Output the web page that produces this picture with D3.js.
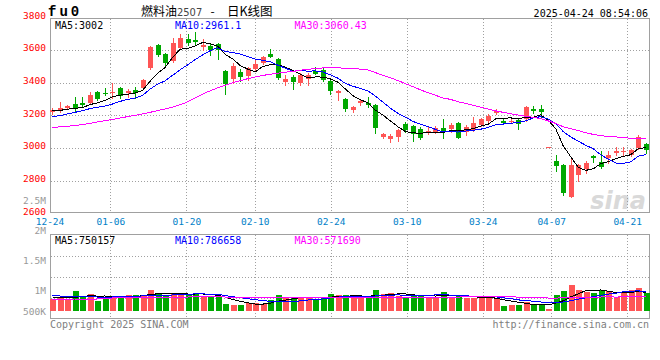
<!DOCTYPE html>
<html><head><meta charset="utf-8">
<script src="https://cdn.jsdelivr.net/npm/d3@7/dist/d3.min.js"></script>
<style>body{margin:0;background:#fff}svg{display:block}</style>
</head><body>
<svg id="c" width="660" height="360"></svg>
<script>
// ---------- data ----------
const dates = ["12-24","12-25","12-26","12-27","12-30","12-31","01-02","01-03","01-06","01-07","01-08","01-09","01-10","01-13","01-14","01-15","01-16","01-17","01-20","01-21","01-22","01-23","01-24","01-27","02-05","02-06","02-07","02-10","02-11","02-12","02-13","02-14","02-17","02-18","02-19","02-20","02-21","02-24","02-25","02-26","02-27","02-28","03-03","03-04","03-05","03-06","03-07","03-10","03-11","03-12","03-13","03-14","03-17","03-18","03-19","03-20","03-21","03-24","03-25","03-26","03-27","03-28","03-31","04-01","04-02","04-03","04-07","04-08","04-09","04-10","04-11","04-14","04-15","04-16","04-17","04-18","04-21","04-22","04-23","04-24"];
const opens  = [3220,3230,3245,3267,3277,3277,3345,3339,3343,3365,3335,3355,3365,3488,3630,3573,3535,3610,3667,3659,3616,3624,3637,3473,3422,3467,3441,3481,3518,3575,3543,3404,3432,3396,3423,3470,3479,3411,3337,3300,3233,3274,3273,3263,3069,3057,3067,3147,3135,3115,3094,3100,3120,3114,3155,3100,3110,3141,3167,3216,3167,3161,3171,3175,3237,3237,3004,2920,2896,2702,2835,2869,2953,2916,2937,2971,2976,2957,2998,3024];
const highs  = [3245,3283,3263,3314,3310,3345,3351,3365,3396,3375,3359,3375,3420,3624,3637,3580,3671,3698,3698,3710,3665,3641,3641,3477,3518,3481,3498,3539,3565,3604,3549,3447,3447,3457,3457,3496,3488,3416,3357,3306,3257,3298,3310,3267,3094,3084,3114,3158,3141,3128,3127,3135,3177,3155,3161,3139,3192,3186,3208,3241,3175,3175,3175,3257,3257,3263,3004,2957,2902,2937,2902,2922,2957,2982,2982,3008,3004,2992,3080,3029];
const lows   = [3208,3220,3237,3228,3257,3273,3294,3326,3304,3304,3314,3304,3359,3482,3565,3508,3528,3606,3630,3630,3600,3569,3545,3330,3400,3412,3416,3477,3514,3555,3420,3386,3359,3386,3386,3450,3412,3330,3292,3224,3222,3263,3249,3094,3061,3035,3045,3100,3045,3053,3086,3094,3063,3100,3059,3080,3106,3135,3155,3205,3145,3151,3116,3167,3216,3192,3004,2861,2712,2698,2800,2845,2916,2875,2910,2957,2953,2953,2992,2967];
const closes = [3232,3243,3257,3237,3265,3324,3300,3331,3345,3318,3351,3335,3416,3620,3569,3522,3641,3671,3641,3646,3630,3600,3600,3392,3502,3432,3488,3514,3559,3559,3426,3420,3406,3447,3447,3455,3416,3348,3349,3239,3251,3288,3261,3120,3086,3073,3110,3110,3088,3064,3106,3120,3100,3141,3063,3131,3155,3179,3196,3228,3151,3167,3147,3249,3228,3222,3004,2890,2722,2896,2896,2910,2937,2882,2957,2984,2982,2988,3069,2988];
const volumes = [480000,508000,480000,800000,612000,680000,400000,508000,572000,572000,640000,640000,600000,840000,720000,600000,720000,720000,640000,720000,612000,600000,572000,280000,240000,240000,308000,308000,280000,440000,640000,508000,572000,508000,572000,480000,520000,680000,640000,640000,548000,508000,572000,840000,680000,720000,600000,572000,640000,640000,572000,572000,760000,572000,600000,508000,508000,508000,532000,532000,200000,240000,240000,348000,268000,240000,92000,640000,800000,1040000,840000,772000,708000,840000,800000,572000,708000,840000,932000,708000];
// moving-average values at the left edge (their earlier inputs are off the picture)
const ma5Head  = [3228,3230,3237,3243];
const ma10Head = [3192,3198,3208,3218,3228,3241,3249,3257,3269];
const ma30Head = [3126,3129,3133,3138,3143,3150,3159,3167,3175,3183,3192,3200,3208,3218,3229,3239,3249,3265,3282,3306,3330,3350,3368,3384,3399,3412,3424,3435,3444];
const vma5Head  = [560000,540000,530000,550000];
const vma10Head = [610000,600000,590000,580000,580000,570000,560000,560000,560000];
const vma30Head = [470000,470000,470000,480000,480000,480000,480000,490000,520000,530000,530000,540000,540000,550000,550000,550000,560000,560000,560000,570000,570000,570000,570000,560000,560000,550000,550000,550000,540000];
const priceTicks = [3800,3600,3400,3200,3000,2800,2600];
const volTickValues = [2500000,2000000,1500000,1000000,500000];
const volTickLabels = ["2.5M","2M","1.5M","1M","500K"];
const xTickDates = ["12-24","01-06","01-20","02-10","02-24","03-10","03-24","04-07","04-21"];
const priceLegend = ["MA5:3002","MA10:2961.1","MA30:3060.43"];
const volLegend = ["MA5:750157","MA10:786658","MA30:571690"];
const maColors = ["#000000","#0000ff","#ff00ff"];

// ---------- drawing ----------
const UP = "#ff5555", DOWN = "#00a800";
const MONO = "'DejaVu Sans Mono', monospace";
const svg = d3.select("#c");
const N = closes.length;
const L = 50.5, R = 649.5;
const mainTop = 18.5, mainBot = 212.5, volTop = 234.5, volBot = 318.5;

const x = d3.scaleLinear().domain([0, N - 1]).range([52.4, 645.8]);
const xg = d3.scaleLinear().domain([0, N - 1]).range([49.5, 650]);
const y = d3.scaleLinear().domain([2600, 3800]).range([213.3, 17.3]);
const yv = d3.scaleLinear().domain([0, 1000000]).range([311, 286]);
const yvLabel = d3.scaleLinear().domain([500000, 2500000]).range([320.7, 200.7]);

function ma(arr, n, head) {
  return arr.map((d, i) => i < n - 1 ? head[i] : d3.mean(arr.slice(i - n + 1, i + 1)));
}
const pMA = [ma(closes, 5, ma5Head), ma(closes, 10, ma10Head), ma(closes, 30, ma30Head)];
const vMA = [ma(volumes, 5, vma5Head), ma(volumes, 10, vma10Head), ma(volumes, 30, vma30Head)];

const px = i => Math.round(x(i));
const gridIdx = xTickDates.map(d => dates.indexOf(d));

// watermark
svg.append("text").attr("x", 646).attr("y", 209).attr("text-anchor", "end")
  .attr("font-family", "'DejaVu Sans', sans-serif").attr("font-size", 24).attr("font-weight", "bold")
  .attr("font-style", "italic").attr("fill", "#d9d9d9").text("sina");

// grids
const g = svg.append("g").attr("shape-rendering", "crispEdges").attr("stroke", "#a0a0a0")
  .attr("stroke-dasharray", "1,2").attr("fill", "none");
priceTicks.slice(1, -1).forEach(v => {
  const yy = Math.round(y(v)) + 0.5;
  g.append("line").attr("x1", L).attr("x2", R).attr("y1", yy).attr("y2", yy);
});
[1, 2, 3].forEach(k => {
  const yy = Math.round(volTop + (volBot - volTop) * k / 4) + 0.5;
  g.append("line").attr("x1", L).attr("x2", R).attr("y1", yy).attr("y2", yy);
});
gridIdx.slice(1).forEach(i => {
  const xx = Math.round(xg(i)) + 0.5;
  g.append("line").attr("x1", xx).attr("x2", xx).attr("y1", mainTop).attr("y2", mainBot);
  g.append("line").attr("x1", xx).attr("x2", xx).attr("y1", volTop).attr("y2", volBot);
});

// borders
[[mainTop, mainBot], [volTop, volBot]].forEach(([t, b]) => {
  svg.append("rect").attr("x", L).attr("y", t).attr("width", R - L).attr("height", b - t)
    .attr("fill", "none").attr("stroke", "#a0a0a0").attr("shape-rendering", "crispEdges");
});

// candles
const cg = svg.append("g").attr("shape-rendering", "crispEdges");
d3.range(N).forEach(i => {
  const up = closes[i] >= opens[i];
  const col = up ? UP : DOWN;
  const cx = px(i) + 0.5;
  cg.append("line").attr("x1", cx).attr("x2", cx)
    .attr("y1", Math.round(y(highs[i]))).attr("y2", Math.round(y(lows[i])) + 1)
    .attr("stroke", col);
  const top = Math.round(y(Math.max(opens[i], closes[i])));
  const bot = Math.round(y(Math.min(opens[i], closes[i])));
  cg.append("rect").attr("x", px(i) - 2).attr("y", top).attr("width", 5)
    .attr("height", Math.max(1, bot - top)).attr("fill", col);
});

// volume bars
d3.range(N).forEach(i => {
  const up = closes[i] >= opens[i];
  const top = Math.round(yv(volumes[i]));
  cg.append("rect").attr("x", px(i) - 2).attr("y", top).attr("width", 6)
    .attr("height", Math.max(1, 311 - top)).attr("fill", up ? UP : DOWN);
});

// MA lines
const lg = svg.append("g").attr("fill", "none").attr("stroke-width", 1).attr("shape-rendering", "crispEdges");
pMA.forEach((s, k) => {
  lg.append("path").attr("stroke", maColors[k])
    .attr("d", d3.line().x((d, i) => x(i)).y(d => y(d))(s));
});
vMA.forEach((s, k) => {
  lg.append("path").attr("stroke", maColors[k])
    .attr("d", d3.line().x((d, i) => x(i)).y(d => yv(d))(s));
});

// text
const legendX = [55, 175, 294.5];
priceLegend.forEach((t, k) => svg.append("text").attr("x", legendX[k]).attr("y", 28.5)
  .attr("font-family", MONO).attr("font-size", 10).attr("fill", maColors[k]).text(t));
volLegend.forEach((t, k) => svg.append("text").attr("x", legendX[k]).attr("y", 243.5)
  .attr("font-family", MONO).attr("font-size", 10).attr("fill", maColors[k]).text(t));

priceTicks.forEach(v => svg.append("text").attr("x", 46).attr("y", y(v) + 1.5)
  .attr("text-anchor", "end").attr("font-family", MONO).attr("font-size", 9.5)
  .attr("fill", "#ff0000").text(v));
volTickValues.forEach((v, k) => svg.append("text").attr("x", 46).attr("y", Math.min(311, yvLabel(v)) + 3.5)
  .attr("text-anchor", "end").attr("font-family", MONO).attr("font-size", 9.5)
  .attr("fill", "#999999").text(volTickLabels[k]));
gridIdx.forEach((i, k) => svg.append("text").attr("x", xg(i) + 0.5).attr("y", 224.5)
  .attr("text-anchor", "middle").attr("font-family", MONO).attr("font-size", 9.5)
  .attr("fill", "#0080c8").text(xTickDates[k]));

svg.append("text").attr("x", 48).attr("y", 15.5).attr("font-family", "'Liberation Mono', monospace")
  .attr("font-size", 14).attr("font-weight", "bold").attr("letter-spacing", 3).attr("fill", "#000").text("fu0");
const CJK = "'Noto Sans CJK SC', sans-serif";
const t1 = svg.append("text").attr("x", 141).attr("y", 15.5).attr("font-size", 12)
  .attr("font-family", CJK).attr("fill", "#000");
t1.append("tspan").text("燃料油");
t1.append("tspan").attr("font-family", "'DejaVu Sans Condensed', 'DejaVu Sans', sans-serif")
  .attr("font-size", 11).attr("fill", "#444").text("2507");
svg.append("text").attr("x", 212.5).attr("y", 15.5).attr("text-anchor", "middle").attr("font-size", 12)
  .attr("font-family", CJK).attr("fill", "#000").text("-");
svg.append("text").attr("x", 227).attr("y", 15.5).attr("font-size", 12.5)
  .attr("font-family", CJK).attr("fill", "#000").text("日K线图");
svg.append("text").attr("x", 648).attr("y", 16.5).attr("text-anchor", "end")
  .attr("font-family", MONO).attr("font-size", 10).attr("fill", "#000").text("2025-04-24 08:54:06");

svg.append("text").attr("x", 50).attr("y", 328).attr("font-family", MONO).attr("font-size", 10)
  .attr("fill", "#808080").text("Copyright 2025 SINA.COM");
svg.append("text").attr("x", 649).attr("y", 328).attr("text-anchor", "end").attr("font-family", MONO)
  .attr("font-size", 10).attr("fill", "#808080").text("http://finance.sina.com.cn");
</script>
</body></html>
